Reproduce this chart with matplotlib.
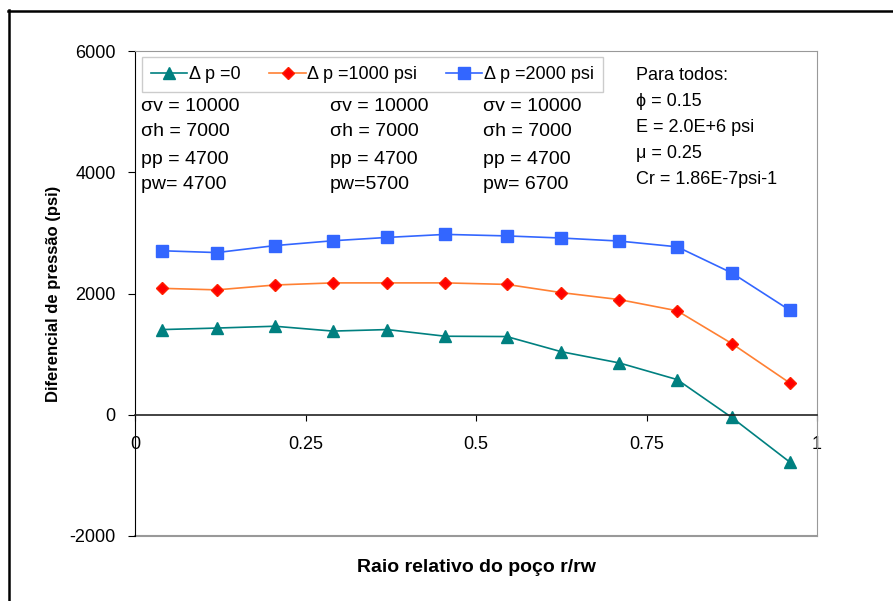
import matplotlib
matplotlib.use("Agg")
import matplotlib.pyplot as plt
from matplotlib.lines import Line2D
from matplotlib import font_manager

# dados
raio = [0.04, 0.12, 0.205, 0.29, 0.37, 0.455, 0.545, 0.625, 0.71, 0.795, 0.875, 0.96]
dp_0 = [1405, 1430, 1460, 1380, 1405, 1295, 1290, 1040, 855, 580, -45, -780]
dp_1000 = [2085, 2060, 2140, 2175, 2175, 2175, 2150, 2015, 1900, 1715, 1175, 525]
dp_2000 = [2705, 2675, 2790, 2870, 2925, 2975, 2950, 2915, 2865, 2770, 2340, 1725]
series_labels = ["Δ p =0", "Δ p =1000 psi", "Δ p =2000 psi"]
colunas = [
    ["σv = 10000", "σh = 7000", "pp = 4700", "pw= 4700"],
    ["σv = 10000", "σh = 7000", "pp = 4700", "pw=5700"],
    ["σv = 10000", "σh = 7000", "pp = 4700", "pw= 6700"],
]
para_todos = ["Para todos:", "ϕ = 0.15", "E = 2.0E+6 psi", "μ = 0.25", "Cr = 1.86E-7psi-1"]

W, H = 893, 601
nomes = {f.name for f in font_manager.fontManager.ttflist}
fam = ["Liberation Sans", "DejaVu Sans"]
fam_narrow = ["Liberation Sans Narrow"] + fam if "Liberation Sans Narrow" in nomes else fam
plt.rcParams["font.family"] = fam
plt.rcParams["axes.unicode_minus"] = False


def px(x, y):
    return x / W, 1 - y / H


fig = plt.figure(figsize=(W / 100, H / 100), dpi=100)
ax = fig.add_axes([135 / W, 1 - 536 / H, 682 / W, 485 / H])

ax.plot(raio, dp_0, color="#008080", lw=1.2, marker="^", ms=8,
        mfc="#008080", mec="#008080", label=series_labels[0])
ax.plot(raio, dp_1000, color="#FF8033", lw=1.2, marker="D", ms=6,
        mfc="#FF0000", mec="#FF2000", label=series_labels[1])
ax.plot(raio, dp_2000, color="#3366FF", lw=1.2, marker="s", ms=8,
        mfc="#3366FF", mec="#3366FF", label=series_labels[2])

ax.set_xlim(0, 1)
ax.set_ylim(-2000, 6000)
ax.set_xticks([0, 0.25, 0.5, 0.75, 1])
ax.set_xticklabels(["0", "0.25", "0.5", "0.75", "1"])
ax.set_yticks([-2000, 0, 2000, 4000, 6000])

for s in ["top", "right"]:
    ax.spines[s].set_color("#999999")
ax.spines["left"].set_color("black")
ax.spines["bottom"].set_position(("data", 0))
ax.spines["bottom"].set_color("#222222")
ax.spines["bottom"].set_linewidth(1.2)
ax.axhline(-2000, color="#999999", lw=1.5, clip_on=False, zorder=0)

ax.tick_params(axis="y", direction="out", length=5, pad=9, labelsize=13)
ax.tick_params(axis="x", direction="out", length=4, pad=11, labelsize=13)
for lbl in ax.get_xticklabels() + ax.get_yticklabels():
    lbl.set_family(fam_narrow)

ax.set_ylabel("Diferencial de pressão (psi)", fontsize=12, fontweight="bold",
              family=fam_narrow, labelpad=6)
fig.text(*px(476, 568), "Raio relativo do poço r/rw", fontsize=14,
         fontweight="bold", family=fam_narrow, ha="center", va="center")

leg = ax.legend(loc="upper left", bbox_to_anchor=px(142, 57), bbox_transform=fig.transFigure,
                ncol=3, fontsize=13, frameon=True, fancybox=False, borderaxespad=0,
                handlelength=2.0, columnspacing=1.6, handletextpad=0.1,
                borderpad=0.5)
leg.get_frame().set_edgecolor("#c0c0c0")
leg.get_frame().set_linewidth(1.0)

linhas_y = [106, 132, 159, 185]
for xc, col in zip([141, 330, 483], colunas):
    for yy, t in zip(linhas_y, col):
        fig.text(*px(xc, yy), t, fontsize=14, ha="left", va="center")

for i, t in enumerate(para_todos):
    fig.text(*px(636, 75 + 26 * i), t, fontsize=13, ha="left", va="center")

# moldura externa
fig.add_artist(Line2D([8.5 / W, 8.5 / W], [0, 1 - 10 / H], color="black", lw=1.8,
                      transform=fig.transFigure))
fig.add_artist(Line2D([8 / W, 1], [1 - 10.5 / H, 1 - 10.5 / H], color="black", lw=1.8,
                      transform=fig.transFigure))

fig.savefig("out.png", dpi=100, facecolor="white")
